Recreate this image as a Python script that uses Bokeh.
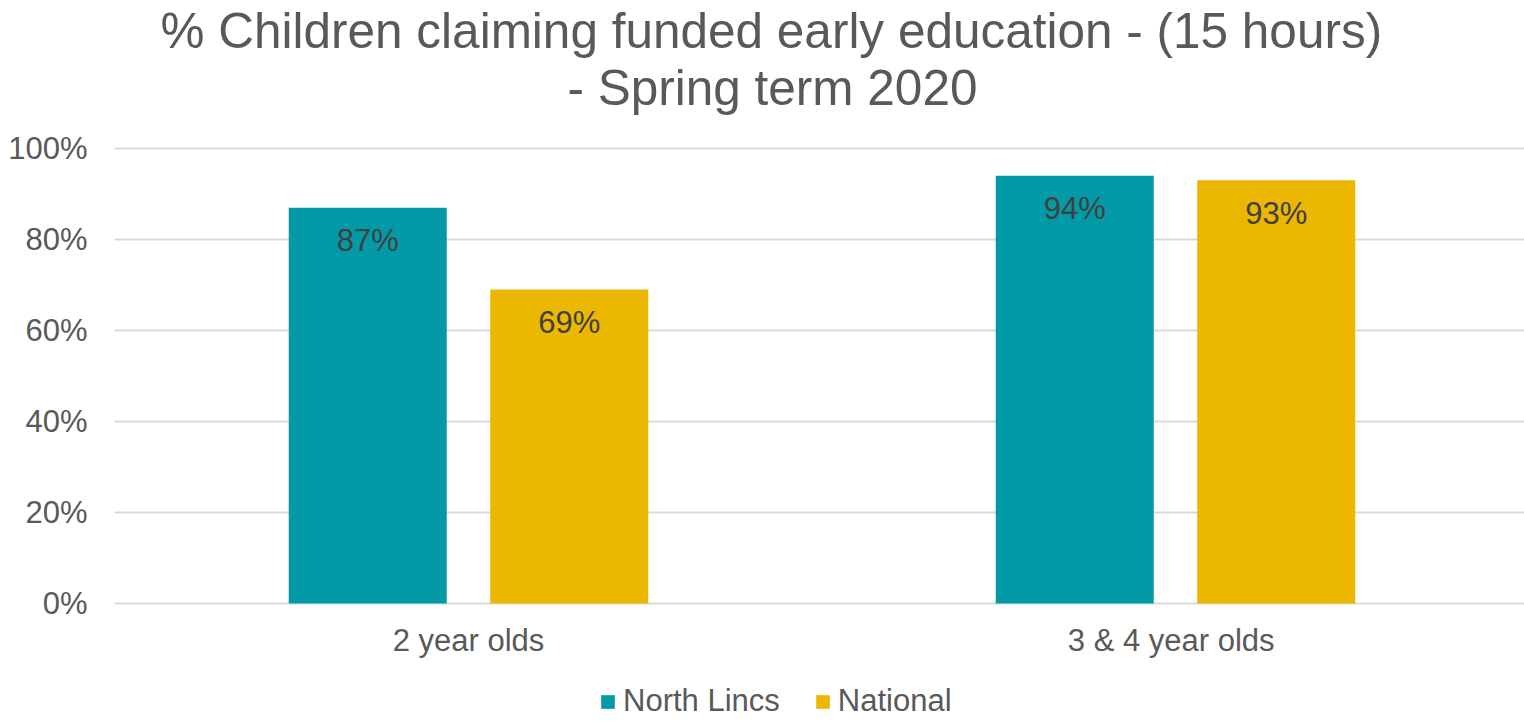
from bokeh.plotting import figure
from bokeh.models import (ColumnDataSource, Range1d, FixedTicker, NumeralTickFormatter,
                          Title, Legend, LegendItem)
from bokeh.core.properties import value
from bokeh.embed import file_html
from bokeh.resources import INLINE

# ---- data ----
categories = ["2 year olds", "3 & 4  year olds"]
series_names = ["North Lincs", "National"]
north_lincs = [0.87, 0.94]
national = [0.69, 0.93]
y_ticks = [0, 0.2, 0.4, 0.6, 0.8, 1.0]
title_lines = ["% Children claiming funded early education - (15 hours)", "- Spring term 2020"]

colors = ["#029AA6", "#EBB700"]
FONT = "Liberation Sans"
TXT = "#595959"

W, H = 1524, 721
LEFT = 114
TOP = 114
PX_PER_UNIT = 455.0
y_end = 1.0 + (148 - TOP) / PX_PER_UNIT
y_start = y_end - (H - TOP) / PX_PER_UNIT
x_start = -0.5007
x_end = x_start + (W - LEFT) / 707.0

p = figure(width=W, height=H, output_backend="svg", toolbar_location=None,
           x_range=Range1d(x_start, x_end), y_range=Range1d(y_start, y_end),
           min_border_left=LEFT, min_border_right=0, min_border_top=TOP, min_border_bottom=0)
p.title = None
p.outline_line_color = None
p.background_fill_color = "white"
p.border_fill_color = "white"

dodge = 0.1425
bar_w = 0.2235
xs = list(range(len(categories)))
renderers = []
for i, (name, vals) in enumerate(zip(series_names, [north_lincs, national])):
    off = -dodge if i == 0 else dodge
    src = ColumnDataSource(dict(x=[x + off for x in xs], top=vals,
                                lbl=[f"{round(v*100)}%" for v in vals]))
    r = p.vbar(x="x", top="top", width=bar_w, bottom=0, source=src,
               fill_color=colors[i], line_color=None)
    renderers.append(r)
    p.text(x="x", y="top", text="lbl", source=src, text_align="center",
           text_baseline="alphabetic", y_offset=33, text_font=value(FONT),
           text_font_size="31px", text_color="#404040")

# category labels under the 0% line
cat_src = ColumnDataSource(dict(x=xs, y=[0] * len(xs), t=categories))
p.text(x="x", y="y", text="t", source=cat_src, text_align="center",
       text_baseline="alphabetic", y_offset=37, text_font=value(FONT),
       text_font_size="31px", text_color=TXT)

# axes
p.xaxis.visible = False
p.yaxis.ticker = FixedTicker(ticks=y_ticks)
p.yaxis.formatter = NumeralTickFormatter(format="0%")
p.yaxis.axis_line_color = None
p.yaxis.major_tick_line_color = None
p.yaxis.minor_tick_line_color = None
p.yaxis.major_label_standoff = 21
p.yaxis.major_label_text_font = FONT
p.yaxis.major_label_text_font_size = "31px"
p.yaxis.major_label_text_color = TXT

p.xgrid.grid_line_color = None
p.ygrid.ticker = FixedTicker(ticks=y_ticks)
p.ygrid.grid_line_color = "#D9D9D9"
p.ygrid.grid_line_width = 2

# title: two lines, nearest-to-frame added first
p.add_layout(Title(text=title_lines[1], align="left", offset=453, text_font=FONT,
                   text_font_size="49.5px", text_font_style="normal", text_color=TXT,
                   standoff=0), "above")
p.add_layout(Title(text=title_lines[0], align="left", offset=46, text_font=FONT,
                   text_font_size="49.5px", text_font_style="normal", text_color=TXT,
                   standoff=0), "above")

legend = Legend(items=[LegendItem(label=n, renderers=[r]) for n, r in zip(series_names, renderers)],
                orientation="horizontal", location=(485, 2),
                glyph_width=17, glyph_height=17, label_standoff=7, spacing=34,
                padding=0, margin=0, border_line_color=None, background_fill_alpha=0,
                label_text_font=FONT, label_text_font_size="31px", label_text_color=TXT)
p.add_layout(legend, "center")

open("out.html", "w").write(file_html(p, INLINE))
